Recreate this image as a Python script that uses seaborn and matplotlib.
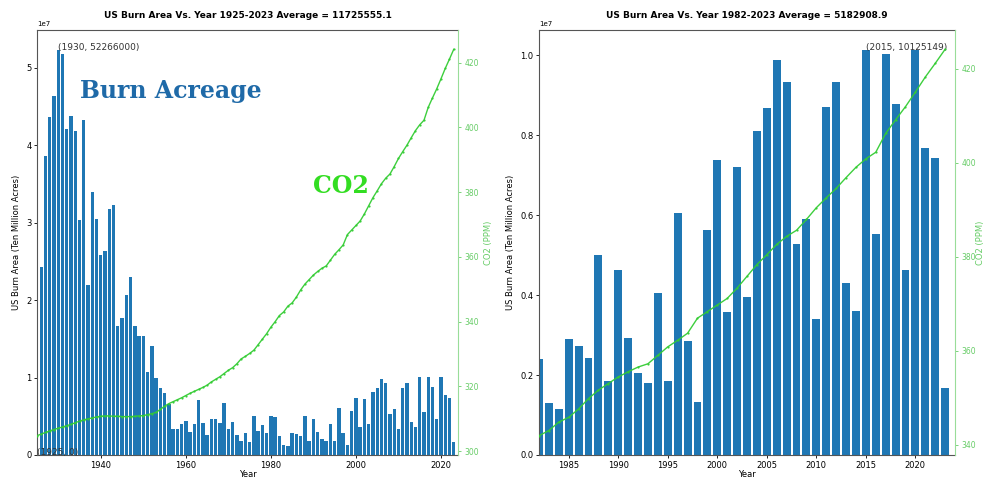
import numpy as np
import pandas as pd
import matplotlib
matplotlib.use("Agg")
import matplotlib.pyplot as plt
import seaborn as sns

# ---------------- data ----------------
years = list(range(1925, 2024))

# burned acreage, millions of acres
burn_millions = [
    0.0,                                                   # 1925
    24.3, 38.6, 43.6, 46.3, 52.266, 51.8, 42.1, 43.8, 41.9, 30.3,   # 1926-1935
    43.3, 22.0, 33.9, 30.5, 25.8, 26.4, 31.8, 32.3, 16.6, 17.7,     # 1936-1945
    20.7, 23.0, 16.6, 15.4, 15.4, 10.7, 14.1, 9.9, 8.7, 8.0,        # 1946-1955
    6.6, 3.3, 3.3, 4.0, 4.4, 3.0, 4.0, 7.1, 4.1, 2.6,               # 1956-1965
    4.6, 4.6, 4.1, 6.7, 3.3, 4.3, 2.6, 1.8, 2.9, 1.7,               # 1966-1975
    5.1, 3.1, 3.9, 2.9, 5.1, 4.9,                                   # 1976-1981
    2.39, 1.31, 1.14, 2.89, 2.72, 2.43, 5.00, 1.85, 4.63,           # 1982-1990
    2.93, 2.06, 1.81, 4.06, 1.85, 6.05, 2.84, 1.33, 5.62, 7.38,     # 1991-2000
    3.57, 7.20, 3.96, 8.11, 8.69, 9.87, 9.33, 5.29, 5.91, 3.40,     # 2001-2010
    8.71, 9.33, 4.31, 3.61, 10.125149, 5.52, 10.03, 8.77, 4.64, 10.12,  # 2011-2020
    7.69, 7.42, 1.68,                                               # 2021-2023
]

# CO2 concentration, ppm
co2_ppm = [
    304.8, 305.3, 305.8, 306.3, 306.7, 307.1, 307.5, 307.9, 308.3, 308.8,  # 1925-1934
    309.3, 309.7, 310.0, 310.3, 310.6, 310.8, 310.9, 310.9, 310.8, 310.8,  # 1935-1944
    310.7, 310.7, 310.7, 310.8, 310.9, 311.0, 311.3, 311.6, 312.0, 312.9,  # 1945-1954
    313.9, 314.7, 315.3, 315.9, 316.5, 317.2, 317.9, 318.5, 319.1, 319.7,  # 1955-1964
    320.4, 321.4, 322.2, 323.0, 324.0, 325.0, 325.8, 327.0, 328.5, 329.3,  # 1965-1974
    330.2, 331.2, 332.9, 334.6, 336.3, 338.3, 340.0,                       # 1975-1981
    341.9, 343.0, 344.8, 345.8, 347.6, 349.8, 351.6, 353.0, 354.4,        # 1982-1990
    355.5, 356.5, 357.2, 359.0, 360.8, 362.2, 363.7, 366.9, 368.3, 369.7,  # 1991-2000
    371.1, 373.3, 375.8, 378.3, 380.4, 382.6, 384.3, 385.6, 387.9, 390.4,  # 2001-2010
    392.5, 394.5, 396.8, 399.0, 400.8, 402.2, 406.2, 409.1, 411.9, 415.0,  # 2011-2020
    418.2, 421.1, 424.1,                                                   # 2021-2023
]

left_title = "US Burn Area Vs. Year 1925-2023 Average = 11725555.1"
right_title = "US Burn Area Vs. Year 1982-2023 Average = 5182908.9"
left_xticks = [1940, 1960, 1980, 2000, 2020]
right_xticks = [1985, 1990, 1995, 2000, 2005, 2010, 2015, 2020]
left_co2_ticks = [300, 320, 340, 360, 380, 400, 420]
right_co2_ticks = [340, 360, 380, 400, 420]

# ---------------- styling ----------------
BAR = "#1f77b4"
GREEN = "#33cc33"
GREEN_TXT = "#66cc66"
FS = 6

df = pd.DataFrame({"Year": years,
                   "Burn": np.array(burn_millions) * 1e6,
                   "CO2": co2_ppm})
dfr = df[df["Year"] >= 1982].reset_index(drop=True)

fig = plt.figure(figsize=(9.85, 4.79), dpi=100)
W, H = 985, 479
ax1 = fig.add_axes([37 / W, 24 / H, 421 / W, 425 / H])
ax2 = fig.add_axes([539 / W, 24 / H, 416 / W, 425 / H])


def draw(ax, data, title, xlim, xticks, co2_ticks, rlabel_x=None):
    sns.barplot(data=data, x="Year", y="Burn", native_scale=True, width=0.8,
                color=BAR, saturation=1, errorbar=None, ax=ax)
    ax.set_xlim(*xlim)
    ax.set_xticks(xticks)
    ax.set_xticklabels([str(t) for t in xticks])
    ax.set_xlabel("Year", fontsize=FS, labelpad=0)
    ax.set_ylabel("US Burn Area (Ten Million Acres)", fontsize=FS, labelpad=4)
    ax.set_title(title, fontsize=6.5, fontweight="bold", pad=9)
    ax.tick_params(labelsize=FS, length=2.5, width=0.6, pad=1.5)
    ax.yaxis.get_offset_text().set_fontsize(5)
    for s in ax.spines.values():
        s.set_linewidth(0.8)
        s.set_color("#555555")
    ax.spines["right"].set_visible(False)

    tw = ax.twinx()
    sns.lineplot(data=data, x="Year", y="CO2", ax=tw, color=GREEN,
                 linewidth=1.0, marker="o", markersize=1.6,
                 markeredgewidth=0, alpha=0.95)
    tw.set_xlim(*xlim)
    tw.set_yticks(co2_ticks)
    tw.set_ylabel("CO2 (PPM)", fontsize=FS, color=GREEN_TXT, labelpad=4)
    if rlabel_x is not None:
        tw.yaxis.set_label_coords(rlabel_x, 0.5)
    tw.tick_params(labelsize=5.5, length=2.5, width=0.6, pad=2,
                   colors=GREEN_TXT)
    for k, s in tw.spines.items():
        s.set_visible(k == "right")
    tw.spines["right"].set_color("#99dd99")
    tw.spines["right"].set_linewidth(0.8)

    i = int(np.argmax(data["Burn"].values))
    yr, v = int(data["Year"].iloc[i]), int(round(data["Burn"].iloc[i]))
    ax.annotate(f"({yr}, {v})", xy=(yr, v), fontsize=6.5, color="#333333",
                zorder=5)
    return tw


draw(ax1, df, left_title, (1925, 2024), left_xticks, left_co2_ticks)
j = int(np.argmin(df["Burn"].values))
ax1.annotate(f"({int(df['Year'].iloc[j])}, {int(df['Burn'].iloc[j])})",
             xy=(int(df["Year"].iloc[j]), int(df["Burn"].iloc[j])),
             fontsize=6.5, color="#333333", zorder=5)

draw(ax2, dfr, right_title, (1982, 2024), right_xticks, right_co2_ticks,
     rlabel_x=(976 - 539) / 416)

# overlay labels
fig.text(80 / W, 1 - 98 / H, "Burn Acreage", family="DejaVu Serif",
         fontweight="bold", fontsize=17, color="#1f6aa8", va="baseline")
fig.text(313 / W, 1 - 193 / H, "CO2", family="DejaVu Serif",
         fontweight="bold", fontsize=17, color="#33dd22", va="baseline")

fig.savefig("out.png", dpi=100)
